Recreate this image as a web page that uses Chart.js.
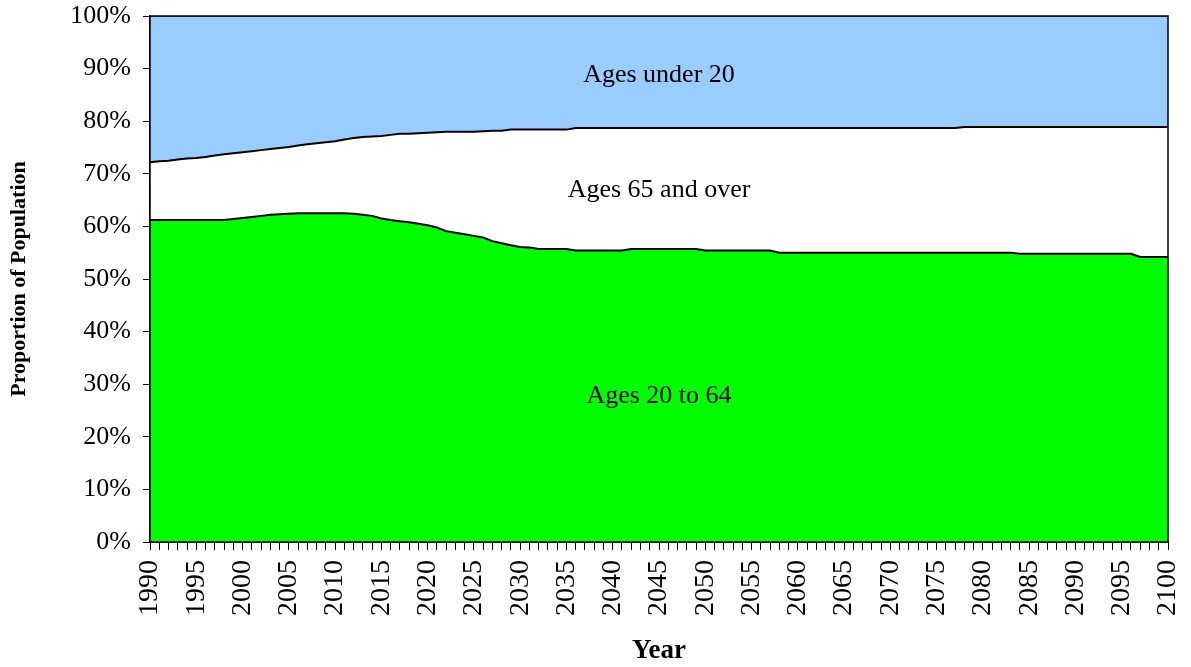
<!DOCTYPE html>
<html>
<head>
<meta charset="utf-8">
<script src="https://cdn.jsdelivr.net/npm/chart.js@4.4.1/dist/chart.umd.min.js"></script>
<style>
  html, body { margin: 0; padding: 0; background: #fff; }
  #wrap { width: 1191px; height: 667px; }
</style>
</head>
<body>
<div id="wrap"><canvas id="popChart" width="1191" height="667"></canvas></div>
<script>
// years 1990..2100
const years = [];
for (let y = 1990; y <= 2100; y++) years.push(y);

// share of population (%) for each age group
const ages20to64 = [
  61.2, 61.2, 61.2, 61.2, 61.2, 61.2, 61.2, 61.2, 61.2, 61.4, // 1990-1999
  61.6, 61.8, 62.0, 62.2, 62.3, 62.4, 62.5, 62.5, 62.5, 62.5, // 2000-2009
  62.5, 62.5, 62.4, 62.2, 62.0, 61.5, 61.2, 61.0, 60.8, 60.5, // 2010-2019
  60.2, 59.8, 59.1, 58.8, 58.5, 58.2, 57.9, 57.2, 56.8, 56.4, // 2020-2029
  56.1, 56.0, 55.7, 55.7, 55.7, 55.7, 55.4, 55.4, 55.4, 55.4, // 2030-2039
  55.4, 55.4, 55.7, 55.7, 55.7, 55.7, 55.7, 55.7, 55.7, 55.7, // 2040-2049
  55.4, 55.4, 55.4, 55.4, 55.4, 55.4, 55.4, 55.4, 55.0, 55.0, // 2050-2059
  55.0, 55.0, 55.0, 55.0, 55.0, 55.0, 55.0, 55.0, 55.0, 55.0, // 2060-2069
  55.0, 55.0, 55.0, 55.0, 55.0, 55.0, 55.0, 55.0, 55.0, 55.0, // 2070-2079
  55.0, 55.0, 55.0, 55.0, 54.8, 54.8, 54.8, 54.8, 54.8, 54.8, // 2080-2089
  54.8, 54.8, 54.8, 54.8, 54.8, 54.8, 54.8, 54.2, 54.2, 54.2, // 2090-2099
  54.2                                                        // 2100
];
const ages65plus = [
  11.0, 11.2, 11.3, 11.5, 11.7, 11.8, 12.0, 12.3, 12.5, 12.5, // 1990-1999
  12.5, 12.5, 12.5, 12.5, 12.6, 12.7, 12.9, 13.1, 13.3, 13.5, // 2000-2009
  13.7, 14.0, 14.4, 14.8, 15.1, 15.7, 16.2, 16.6, 16.8, 17.2, // 2010-2019
  17.6, 18.1, 18.9, 19.2, 19.5, 19.8, 20.2, 21.0, 21.4, 22.0, // 2020-2029
  22.3, 22.4, 22.7, 22.7, 22.7, 22.7, 23.3, 23.3, 23.3, 23.3, // 2030-2039
  23.3, 23.3, 23.0, 23.0, 23.0, 23.0, 23.0, 23.0, 23.0, 23.0, // 2040-2049
  23.3, 23.3, 23.3, 23.3, 23.3, 23.3, 23.3, 23.3, 23.7, 23.7, // 2050-2059
  23.7, 23.7, 23.7, 23.7, 23.7, 23.7, 23.7, 23.7, 23.7, 23.7, // 2060-2069
  23.7, 23.7, 23.7, 23.7, 23.7, 23.7, 23.7, 23.7, 23.9, 23.9, // 2070-2079
  23.9, 23.9, 23.9, 23.9, 24.1, 24.1, 24.1, 24.1, 24.1, 24.1, // 2080-2089
  24.1, 24.1, 24.1, 24.1, 24.1, 24.1, 24.1, 24.7, 24.7, 24.7, // 2090-2099
  24.7                                                        // 2100
];
const agesUnder20 = [
  27.8, 27.6, 27.5, 27.3, 27.1, 27.0, 26.8, 26.5, 26.3, 26.1, // 1990-1999
  25.9, 25.7, 25.5, 25.3, 25.1, 24.9, 24.6, 24.4, 24.2, 24.0, // 2000-2009
  23.8, 23.5, 23.2, 23.0, 22.9, 22.8, 22.6, 22.4, 22.4, 22.3, // 2010-2019
  22.2, 22.1, 22.0, 22.0, 22.0, 22.0, 21.9, 21.8, 21.8, 21.6, // 2020-2029
  21.6, 21.6, 21.6, 21.6, 21.6, 21.6, 21.3, 21.3, 21.3, 21.3, // 2030-2039
  21.3, 21.3, 21.3, 21.3, 21.3, 21.3, 21.3, 21.3, 21.3, 21.3, // 2040-2049
  21.3, 21.3, 21.3, 21.3, 21.3, 21.3, 21.3, 21.3, 21.3, 21.3, // 2050-2059
  21.3, 21.3, 21.3, 21.3, 21.3, 21.3, 21.3, 21.3, 21.3, 21.3, // 2060-2069
  21.3, 21.3, 21.3, 21.3, 21.3, 21.3, 21.3, 21.3, 21.1, 21.1, // 2070-2079
  21.1, 21.1, 21.1, 21.1, 21.1, 21.1, 21.1, 21.1, 21.1, 21.1, // 2080-2089
  21.1, 21.1, 21.1, 21.1, 21.1, 21.1, 21.1, 21.1, 21.1, 21.1, // 2090-2099
  21.1                                                        // 2100
];

// in-chart labels: text and the y value (%) where they sit
const areaLabels = [
  { text: "Ages under 20", y: 88.8 },
  { text: "Ages 65 and over", y: 66.9 },
  { text: "Ages 20 to 64", y: 27.8 }
];

const SERIF = "'Liberation Serif', 'Times New Roman', serif";

// frame around the plot + the area labels
const decorPlugin = {
  id: "decor",
  afterDatasetsDraw(chart) {
    const { ctx, chartArea: a, scales } = chart;
    ctx.save();
    ctx.fillStyle = "#000";
    ctx.font = "26px " + SERIF;
    ctx.textAlign = "center";
    ctx.textBaseline = "middle";
    const cx = (a.left + a.right) / 2;
    areaLabels.forEach(l => ctx.fillText(l.text, cx, scales.y.getPixelForValue(l.y)));
    ctx.strokeStyle = "#000";
    ctx.lineWidth = 1.5;
    ctx.strokeRect(a.left, a.top, a.right - a.left, a.bottom - a.top);
    ctx.restore();
  }
};

const ctx = document.getElementById("popChart").getContext("2d");
new Chart(ctx, {
  type: "line",
  data: {
    labels: years,
    datasets: [
      { label: "Ages 20 to 64", data: ages20to64, fill: "origin", backgroundColor: "#00FF00",
        borderColor: "#000", borderWidth: 2 },
      { label: "Ages 65 and over", data: ages65plus, fill: "-1", backgroundColor: "#FFFFFF",
        borderColor: "#000", borderWidth: 2 },
      { label: "Ages under 20", data: agesUnder20, fill: "-1", backgroundColor: "#99CCFF",
        borderColor: "#000", borderWidth: 1 }
    ]
  },
  options: {
    responsive: false,
    animation: false,
    events: [],
    elements: { point: { radius: 0 }, line: { tension: 0 } },
    layout: { padding: { left: 0, right: 23, top: 16, bottom: 0 } },
    plugins: { legend: { display: false }, tooltip: { enabled: false } },
    scales: {
      x: {
        offset: false,
        grid: { drawOnChartArea: false, tickLength: 8, color: "#000" },
        border: { color: "#000", width: 1.5 },
        ticks: {
          autoSkip: false, maxRotation: 90, minRotation: 90, padding: 10,
          color: "#000", font: { family: SERIF, size: 28 },
          callback: (v, i) => (years[i] % 5 === 0 ? String(years[i]) : "")
        },
        title: { display: true, text: "Year", color: "#000", padding: { top: 0, bottom: 0 },
          font: { family: SERIF, size: 27, weight: "bold" } },
        afterFit: s => { s.height = 125; s.paddingLeft = 0; s.paddingRight = 0; }
      },
      y: {
        stacked: true, min: 0, max: 100,
        grid: { drawOnChartArea: false, tickLength: 7, color: "#000" },
        border: { color: "#000", width: 1.5 },
        ticks: { stepSize: 10, padding: 12, color: "#000", font: { family: SERIF, size: 26 },
          callback: v => v + "%" },
        title: { display: true, text: "Proportion of Population", color: "#000", padding: { top: 6, bottom: 0 },
          font: { family: SERIF, size: 22, weight: "bold" } },
        afterFit: s => { s.width = 150; s.paddingTop = 0; s.paddingBottom = 0; }
      }
    }
  },
  plugins: [decorPlugin]
});
</script>
</body>
</html>
